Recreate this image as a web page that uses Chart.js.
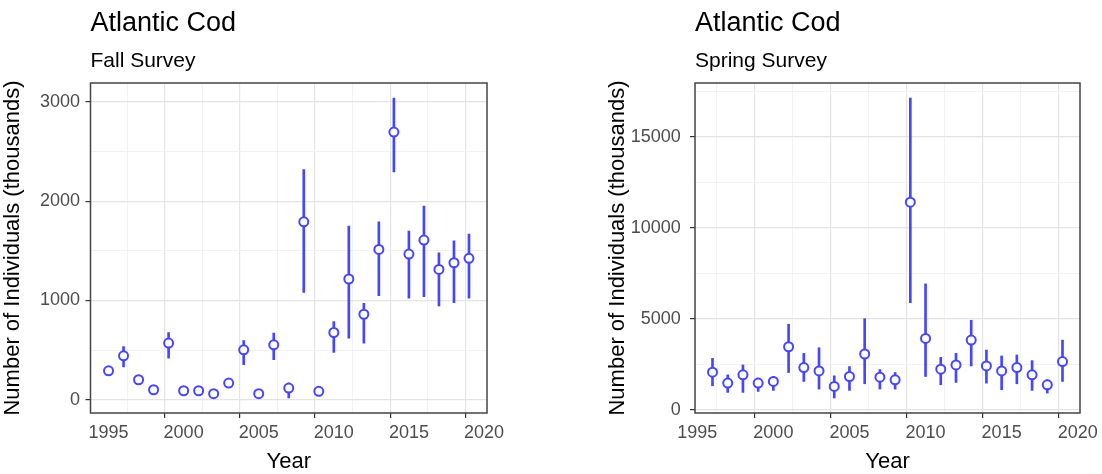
<!DOCTYPE html>
<html><head><meta charset="utf-8">
<script src="https://cdn.jsdelivr.net/npm/chart.js@4.4.1/dist/chart.umd.min.js"></script>
<style>
html,body{margin:0;padding:0;background:#fff;}
#wrap{position:relative;width:1102px;height:474px;overflow:hidden;}
canvas{position:absolute;top:0;}
</style></head><body>
<div id="wrap">
<canvas id="fall" width="551" height="474" style="left:0"></canvas>
<canvas id="spring" width="551" height="474" style="left:551px"></canvas>
</div>
<script>
// ---------- data ----------
const fallYears = [1995,1996,1997,1998,1999,2000,2001,2002,2003,2004,2005,2006,2007,2008,2009,2010,2011,2012,2013,2014,2015,2016,2017,2018,2019];
const fallMean  = [291,442,201,100,570,90,90,60,168,503,60,553,117,1792,84,677,1216,861,1514,2697,1467,1608,1313,1380,1424];
const fallLow   = [250,329,160,65,419,55,55,30,120,352,20,402,17,1082,50,476,620,570,1049,2295,1022,1038,945,978,1022];
const fallHigh  = [335,536,245,140,676,125,125,95,215,596,100,670,168,2318,120,787,1749,971,1792,3040,1698,1950,1481,1601,1668];

const springYears = [1996,1997,1998,1999,2000,2001,2002,2003,2004,2005,2006,2007,2008,2009,2010,2011,2012,2013,2014,2015,2016,2017,2018,2019];
const springMean  = [2056,1456,1910,1456,1547,3457,2311,2128,1274,1820,3057,1784,1638,11408,3912,2220,2456,3821,2402,2128,2311,1910,1365,2639];
const springLow   = [1310,946,946,1000,1055,2038,1547,1128,637,1055,1419,1128,1128,5877,1820,1365,1492,2402,1456,1092,1419,1055,910,1547];
const springHigh  = [2820,1910,2456,1729,1820,4694,3093,3402,1856,2365,5000,2201,2038,17140,6914,2875,3093,4913,3275,2948,3002,2693,1638,3821];

const xTickLabels = [1995,2000,2005,2010,2015,2020];
const fallYTicks = [0,1000,2000,3000];
const springYTicks = [0,5000,10000,15000];

const titleText = 'Atlantic Cod';
const fallSubtitle = 'Fall Survey';
const springSubtitle = 'Spring Survey';
const xTitle = 'Year';
const yTitle = 'Number of Individuals (thousands)';

// ---------- helpers ----------
const FONT = '"Liberation Sans", Arial, Helvetica, sans-serif';
const BLUE = '#4646ff';

function expandRange(lo, hi){ const r = hi - lo; return [lo - 0.05*r, hi + 0.05*r]; }
function withMinor(major, min, max){
  const step = major[1]-major[0];
  const all = [];
  for (let v = major[0] - step; v <= major[major.length-1] + step; v += step/2){
    if (v >= min && v <= max) all.push(v);
  }
  return all;
}

function makePanel(id, years, mean, low, high, yTicks, subtitle, geo){
  const [xmin, xmax] = expandRange(Math.min(...years), Math.max(...years));
  const [ymin, ymax] = expandRange(Math.min(...low), Math.max(...high));
  const xAll = withMinor(xTickLabels, xmin, xmax);
  const yAll = withMinor(yTicks, ymin, ymax);

  const points = years.map((y,i)=>({x:y, y:mean[i]}));
  const bars = years.map((y,i)=>({x:y, y:[low[i], high[i]]}));

  const gridColor = (major) => (c)=> major.includes(c.tick && c.tick.value) ? '#e4e4e4' : '#f0f0f0';
  const gridWidth = (major) => (c)=> major.includes(c.tick && c.tick.value) ? 1.2 : 0.9;
  const tickCol = (major) => (c)=> major.includes(c.tick && c.tick.value) ? '#333333' : 'rgba(0,0,0,0)';

  const titlePlugin = {
    id: 'titles',
    afterDraw(chart){
      const ctx = chart.ctx, a = chart.chartArea;
      ctx.save();
      // panel border
      ctx.strokeStyle = '#444';
      ctx.lineWidth = 1.5;
      ctx.strokeRect(a.left, a.top, a.right - a.left, a.bottom - a.top);
      ctx.fillStyle = '#000';
      ctx.textAlign = 'left';
      ctx.textBaseline = 'alphabetic';
      ctx.font = '27px ' + FONT;
      ctx.fillText(titleText, a.left, 31);
      ctx.font = '21px ' + FONT;
      ctx.fillText(subtitle, a.left, 66.5);
      ctx.restore();
    }
  };

  new Chart(document.getElementById(id), {
    type: 'scatter',
    data: {
      datasets: [
        { type:'scatter', data: points, pointStyle:'circle', pointRadius:4.5, pointBorderWidth:2,
          pointBackgroundColor:'#ffffff', pointBorderColor:BLUE, showLine:false },
        { type:'bar', data: bars, backgroundColor:BLUE, borderWidth:0, barThickness:2, grouped:false }
      ]
    },
    options: {
      responsive:false, animation:false, devicePixelRatio:1,
      events: [],
      layout: { padding: { left:0, right:geo.padRight, top:83, bottom:0 } },
      plugins: { legend:{display:false}, tooltip:{enabled:false}, title:{display:false} },
      scales: {
        x: {
          type:'linear', position:'bottom', min:xmin, max:xmax, offset:false,
          afterBuildTicks: (s)=>{ s.ticks = xAll.map(v=>({value:v})); },
          afterFit: (s)=>{ s.height = 61; },
          ticks: { autoSkip:false, maxRotation:0, minRotation:0, padding:4, color:'#4d4d4d',
                   font:{family:FONT, size:18},
                   callback:(v)=> xTickLabels.includes(v) ? String(v) : '' },
          grid: { color:gridColor(xTickLabels), lineWidth:gridWidth(xTickLabels), tickColor:tickCol(xTickLabels),
                  tickLength:5, tickWidth:1.2, drawTicks:true },
          border: { display:false },
          title: { display:true, text:xTitle, color:'#000', font:{family:FONT, size:22}, padding:{top:0,bottom:-1} }
        },
        y: {
          type:'linear', position:'left', min:ymin, max:ymax,
          afterBuildTicks: (s)=>{ s.ticks = yAll.map(v=>({value:v})); },
          afterFit: (s)=>{ s.width = geo.yWidth; },
          ticks: { autoSkip:false, padding:geo.yPad, color:'#4d4d4d', font:{family:FONT, size:18},
                   callback:(v)=> yTicks.includes(v) ? String(v) : '' },
          grid: { color:gridColor(yTicks), lineWidth:gridWidth(yTicks), tickColor:tickCol(yTicks),
                  tickLength:5, tickWidth:1.2, drawTicks:true },
          border: { display:false },
          title: { display:true, text:yTitle, color:'#000', font:{family:FONT, size:22}, padding:{top:geo.yTitlePad,bottom:0} }
        }
      }
    },
    plugins: [titlePlugin]
  });
}

makePanel('fall', fallYears, fallMean, fallLow, fallHigh, fallYTicks, fallSubtitle,
          { yWidth:90.5, padRight:64, yPad:5.5, yTitlePad:0 });
makePanel('spring', springYears, springMean, springLow, springHigh, springYTicks, springSubtitle,
          { yWidth:144, padRight:22, yPad:9.3, yTitlePad:53.8 });
</script>
</body></html>
